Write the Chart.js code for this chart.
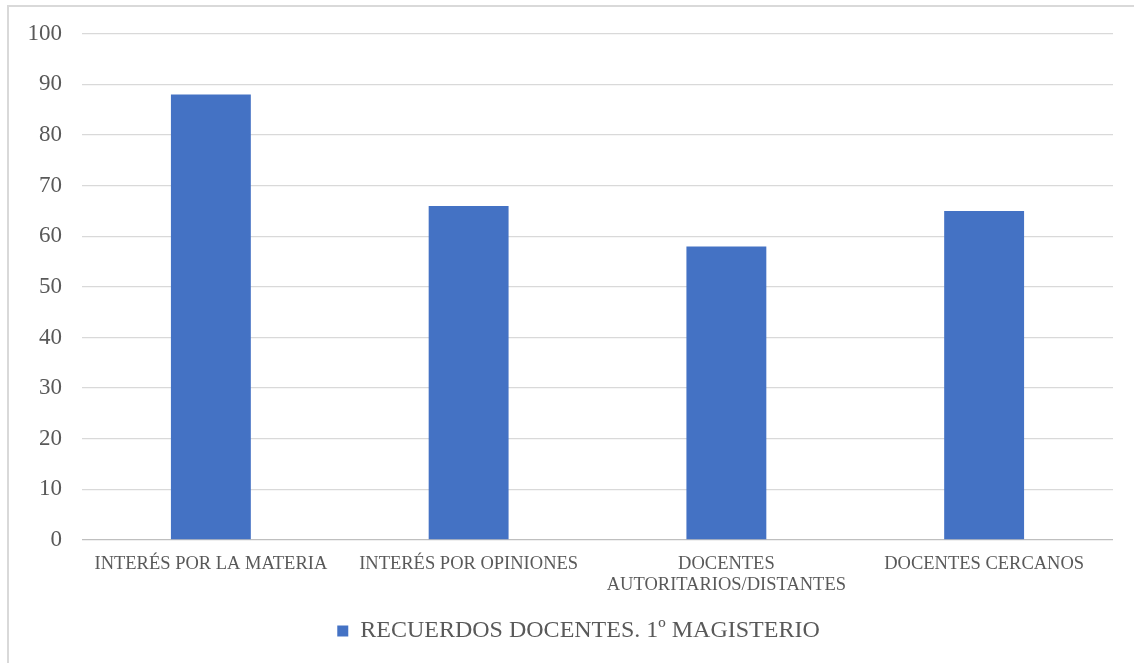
<!DOCTYPE html>
<html>
<head>
<meta charset="utf-8">
<script src="https://cdn.jsdelivr.net/npm/chart.js@4.4.1/dist/chart.umd.min.js"></script>
<style>
  html, body { margin: 0; padding: 0; background: #fff; }
  #frame { position: absolute; left: 7px; top: 5px; width: 1200px; height: 700px;
           border-top: 2px solid #d9d9d9; border-left: 2px solid #d9d9d9; box-sizing: border-box; }
  #wrap { position: absolute; left: 0; top: 0; width: 1134px; height: 663px; }
</style>
</head>
<body>
<div id="frame"></div>
<div id="wrap"><canvas id="c" width="1134" height="663"></canvas></div>
<script>
const categories = [
  "INTERÉS POR LA MATERIA",
  "INTERÉS POR OPINIONES",
  ["DOCENTES", "AUTORITARIOS/DISTANTES"],
  "DOCENTES CERCANOS"
];
const seriesName = "RECUERDOS DOCENTES. 1º MAGISTERIO";
const values = [88, 66, 58, 65];
const yTicks = [0, 10, 20, 30, 40, 50, 60, 70, 80, 90, 100];

const textColor = '#595959';
const fontFamily = '"Liberation Serif", "Times New Roman", serif';

const legendShift = {
  id: 'legendShift',
  afterLayout(chart) {
    const lg = chart.legend;
    if (lg) { lg.left += 22; lg.right += 22; }
  }
};

new Chart(document.getElementById('c'), {
  type: 'bar',
  data: {
    labels: categories,
    datasets: [{
      label: seriesName,
      data: values,
      backgroundColor: '#4472C4',
      borderWidth: 0,
      categoryPercentage: 1,
      barPercentage: 0.31
    }]
  },
  plugins: [legendShift],
  options: {
    responsive: false,
    animation: false,
    layout: { padding: { top: 31, right: 21, bottom: 10, left: 0 } },
    plugins: {
      tooltip: { enabled: false },
      legend: {
        position: 'bottom',
        labels: {
          color: textColor,
          font: { family: fontFamily, size: 24 },
          boxWidth: 11,
          boxHeight: 11,
          padding: 10
        }
      }
    },
    scales: {
      x: {
        grid: { display: false },
        border: { display: false },
        ticks: {
          color: textColor,
          font: { family: fontFamily, size: 18.5, lineHeight: 1.12 },
          padding: 6,
          maxRotation: 0,
          autoSkip: false
        },
        afterFit: (s) => { s.height = 69; }
      },
      y: {
        min: 0,
        max: 100,
        afterBuildTicks: (s) => { s.ticks = yTicks.map(v => ({ value: v })); },
        grid: {
          color: (ctx) => ctx.tick && ctx.tick.value === 0 ? '#bfbfbf' : '#d9d9d9',
          lineWidth: 1.3,
          drawTicks: false
        },
        border: { display: false },
        ticks: {
          color: textColor,
          font: { family: fontFamily, size: 23 },
          padding: 20
        },
        afterFit: (s) => { s.width = 82; }
      }
    }
  }
});
</script>
</body>
</html>
